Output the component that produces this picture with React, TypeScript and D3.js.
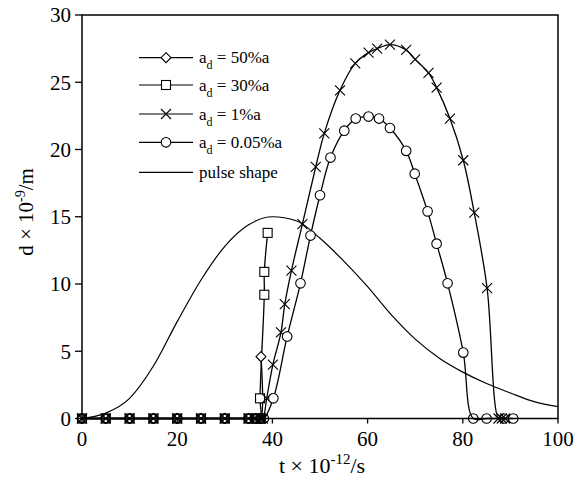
import React from "react";
import * as d3 from "d3";

const xTicks = [0, 20, 40, 60, 80, 100];
const yTicks = [0, 5, 10, 15, 20, 25, 30];

const baseT = [0, 5, 10, 15, 20, 25, 30, 35, 36.5, 37.5];

const s50: [number, number][] = [...baseT.map((t) => [t, 0] as [number, number]), [37.6, 4.6]];
const s30: [number, number][] = [
  ...baseT.map((t) => [t, 0] as [number, number]),
  [37.4, 1.5],
  [38.3, 9.2],
  [38.3, 10.9],
  [39.0, 13.8],
];
const s1: [number, number][] = [
  ...baseT.map((t) => [t, 0] as [number, number]),
  [38.0, 0],
  [38.8, 1.5],
  [40.1, 4.0],
  [41.8, 6.4],
  [42.6, 8.5],
  [44.0, 11.0],
  [46.3, 14.45],
  [49.1, 18.7],
  [50.9, 21.2],
  [54.2, 24.4],
  [57.4, 26.4],
  [60.2, 27.2],
  [62.0, 27.5],
  [64.7, 27.8],
  [68.1, 27.4],
  [70.0, 26.7],
  [72.8, 25.7],
  [74.5, 24.6],
  [77.3, 22.3],
  [80.1, 19.2],
  [82.4, 15.3],
  [85.1, 9.7],
  [87.5, 0],
  [88.2, 0],
  [88.9, 0],
];
const s005: [number, number][] = [
  ...baseT.map((t) => [t, 0] as [number, number]),
  [38.2, 0],
  [40.2, 1.5],
  [43.1, 6.1],
  [45.9, 10.05],
  [48.0, 13.6],
  [50.0, 16.6],
  [52.2, 19.4],
  [55.1, 21.4],
  [57.5, 22.3],
  [60.2, 22.45],
  [62.4, 22.3],
  [64.7, 21.6],
  [68.1, 19.9],
  [69.9, 18.2],
  [72.6, 15.4],
  [74.5, 13.0],
  [76.8, 10.05],
  [80.1, 4.9],
  [82.2, 0],
  [85.0, 0],
  [88.6, 0],
  [90.6, 0],
];
const pulseT = [0, 5, 10, 15, 20, 25, 30, 35, 40, 45, 50, 55, 60, 65, 70, 75, 80, 85, 90, 95, 100];
const pulseD = [0, 0.4, 1.5, 3.9, 7.2, 10.3, 12.8, 14.4, 15.0, 14.7, 13.4, 11.7, 9.8, 7.7, 5.9, 4.5, 3.45, 2.6, 1.9, 1.25, 0.88];

const legendLabels = ["50%a", "30%a", "1%a", "0.05%a", "pulse shape"];

const W = 586;
const H = 481;
const L = 82;
const R = 558;
const T = 15;
const B = 418.5;
const FONT = "'Liberation Serif', 'DejaVu Serif', serif";

type MarkerKind = "diamond" | "square" | "cross" | "circle" | "none";

function Marker({ kind, x, y, fill = "none" }: { kind: MarkerKind; x: number; y: number; fill?: string }) {
  const st = { fill, stroke: "black", strokeWidth: 1.1 };
  if (kind === "diamond") {
    const r = 5;
    return <path d={`M${x},${y - r}L${x + r},${y}L${x},${y + r}L${x - r},${y}Z`} {...st} />;
  }
  if (kind === "square") {
    const r = 4.5;
    return <rect x={x - r} y={y - r} width={2 * r} height={2 * r} {...st} />;
  }
  if (kind === "cross") {
    const r = 5;
    return (
      <path
        d={`M${x - r},${y - r}L${x + r},${y + r}M${x - r},${y + r}L${x + r},${y - r}`}
        fill="none"
        stroke="black"
        strokeWidth={1.1}
      />
    );
  }
  if (kind === "circle") {
    return <circle cx={x} cy={y} r={4.8} {...st} />;
  }
  return null;
}

export default function App() {
  const x = d3.scaleLinear().domain([0, 100]).range([L, R]);
  const y = d3.scaleLinear().domain([0, 30]).range([B, T]);

  const seriesLine = d3
    .line<[number, number]>()
    .x((d) => x(d[0]))
    .y((d) => y(d[1]))
    .curve(d3.curveCatmullRom.alpha(0.5));

  const pulseLine = d3
    .line<number>()
    .x((_, i) => x(pulseT[i]))
    .y((d) => y(d))
    .curve(d3.curveMonotoneX);

  const series: { data: [number, number][]; kind: MarkerKind }[] = [
    { data: s50, kind: "diamond" },
    { data: s30, kind: "square" },
    { data: s1, kind: "cross" },
    { data: s005, kind: "circle" },
  ];

  const legendKinds: MarkerKind[] = ["diamond", "square", "cross", "circle", "none"];
  const legendY = [57.7, 85, 114, 142.3, 172.3];

  return (
    <svg width={W} height={H} style={{ display: "block", position: "absolute", left: 0, top: 0 }}>
      <rect x={0} y={0} width={W} height={H} fill="white" />
      {/* pulse */}
      <path d={pulseLine(pulseD) || ""} fill="none" stroke="black" strokeWidth={1.2} />
      {series.map((s, i) => (
        <path key={i} d={seriesLine(s.data) || ""} fill="none" stroke="black" strokeWidth={1.3} />
      ))}
      {series.map((s, i) => (
        <g key={"m" + i}>
          {s.data.map((d, j) => (
            <Marker key={j} kind={s.kind} x={x(d[0])} y={y(d[1])} fill={d[1] === 0 ? "none" : "white"} />
          ))}
        </g>
      ))}
      {/* frame */}
      <rect x={L} y={T} width={R - L} height={B - T} fill="none" stroke="black" strokeWidth={1.5} />
      {/* y ticks */}
      {yTicks.map((t) => (
        <g key={"y" + t}>
          <line x1={L - 7} x2={L} y1={y(t)} y2={y(t)} stroke="black" strokeWidth={1.3} />
          <text x={L - 11} y={y(t)} dy="0.35em" textAnchor="end" fontFamily={FONT} fontSize={21}>
            {t}
          </text>
        </g>
      ))}
      {/* x ticks */}
      {xTicks.map((t) => (
        <g key={"x" + t}>
          <line x1={x(t)} x2={x(t)} y1={B} y2={B + 5} stroke="black" strokeWidth={1.3} />
          <text x={x(t)} y={B + 27} textAnchor="middle" fontFamily={FONT} fontSize={21}>
            {t}
          </text>
        </g>
      ))}
      {/* axis titles */}
      <text x={322} y={473} textAnchor="middle" fontFamily={FONT} fontSize={22}>
        t × 10
        <tspan dy={-9} fontSize={15}>-12</tspan>
        <tspan dy={9}>/s</tspan>
      </text>
      <text
        transform={`translate(33,212) rotate(-90)`}
        textAnchor="middle"
        fontFamily={FONT}
        fontSize={21}
      >
        d × 10
        <tspan dy={-8} fontSize={14}>-9</tspan>
        <tspan dy={8}>/m</tspan>
      </text>
      {/* legend */}
      {legendLabels.map((lab, i) => (
        <g key={"l" + i}>
          <line x1={139} x2={193} y1={legendY[i]} y2={legendY[i]} stroke="black" strokeWidth={1.2} />
          <Marker kind={legendKinds[i]} x={166} y={legendY[i]} fill="white" />
          {legendKinds[i] === "none" ? (
            <text x={199} y={legendY[i]} dy="0.33em" fontFamily={FONT} fontSize={17}>
              {lab}
            </text>
          ) : (
            <text x={199} y={legendY[i]} dy="0.33em" fontFamily={FONT} fontSize={17}>
              a
              <tspan dy={6} fontSize={12}>d</tspan>
              <tspan dy={-6}>{" = " + lab}</tspan>
            </text>
          )}
        </g>
      ))}
    </svg>
  );
}
